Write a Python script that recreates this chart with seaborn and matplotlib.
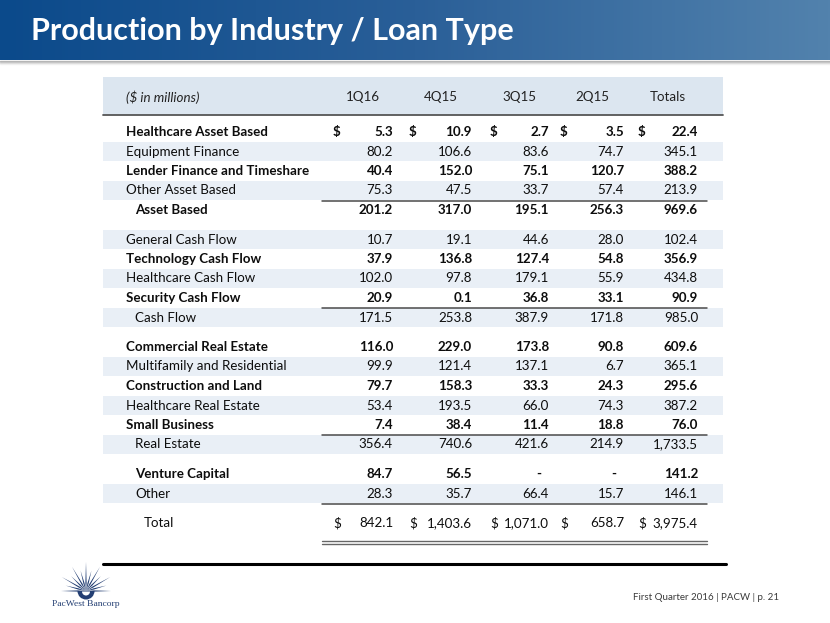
import numpy as np
import pandas as pd
import matplotlib
matplotlib.use("Agg")
import matplotlib.pyplot as plt
import seaborn as sns
from matplotlib.colors import LinearSegmentedColormap
from matplotlib.patches import Rectangle, Polygon, Wedge

# ---------------- data ----------------
title = "Production by Industry / Loan Type"
unit_label = "($ in millions)"
periods = ["1Q16", "4Q15", "3Q15", "2Q15", "Totals"]
categories = [
    "Healthcare Asset Based", "Equipment Finance", "Lender Finance and Timeshare",
    "Other Asset Based", "Asset Based",
    "General Cash Flow", "Technology Cash Flow", "Healthcare Cash Flow",
    "Security Cash Flow", "Cash Flow",
    "Commercial Real Estate", "Multifamily and Residential", "Construction and Land",
    "Healthcare Real Estate", "Small Business", "Real Estate",
    "Venture Capital", "Other",
    "Total",
]
q1_16 = [5.3, 80.2, 40.4, 75.3, 201.2, 10.7, 37.9, 102.0, 20.9, 171.5,
         116.0, 99.9, 79.7, 53.4, 7.4, 356.4, 84.7, 28.3, 842.1]
q4_15 = [10.9, 106.6, 152.0, 47.5, 317.0, 19.1, 136.8, 97.8, 0.1, 253.8,
         229.0, 121.4, 158.3, 193.5, 38.4, 740.6, 56.5, 35.7, 1403.6]
q3_15 = [2.7, 83.6, 75.1, 33.7, 195.1, 44.6, 127.4, 179.1, 36.8, 387.9,
         173.8, 137.1, 33.3, 66.0, 11.4, 421.6, None, 66.4, 1071.0]
q2_15 = [3.5, 74.7, 120.7, 57.4, 256.3, 28.0, 54.8, 55.9, 33.1, 171.8,
         90.8, 6.7, 24.3, 74.3, 18.8, 214.9, None, 15.7, 658.7]
totals = [22.4, 345.1, 388.2, 213.9, 969.6, 102.4, 356.9, 434.8, 90.9, 985.0,
          609.6, 365.1, 295.6, 387.2, 76.0, 1733.5, 141.2, 146.1, 3975.4]
footer = "First Quarter 2016 | PACW | p. 21"
logo_text = "PacWest Bancorp"

df = pd.DataFrame({"category": categories, "1Q16": q1_16, "4Q15": q4_15,
                   "3Q15": q3_15, "2Q15": q2_15, "Totals": totals})

# ---------------- style / layout ----------------
sns.set_theme(style="white")
plt.rcParams["font.family"] = ["Lato", "DejaVu Sans"]

bold_rows = {"Healthcare Asset Based", "Lender Finance and Timeshare", "Asset Based",
             "Technology Cash Flow", "Security Cash Flow", "Commercial Real Estate",
             "Construction and Land", "Small Business", "Venture Capital"}
indent1 = {"Asset Based", "Cash Flow", "Real Estate", "Venture Capital", "Other"}
indent2 = {"Total"}
shaded_rows = {"Equipment Finance", "Other Asset Based", "General Cash Flow",
               "Healthcare Cash Flow", "Cash Flow", "Multifamily and Residential",
               "Healthcare Real Estate", "Real Estate", "Other"}
dollar_rows = {"Healthcare Asset Based", "Total"}
underline_before = {"Asset Based", "Cash Flow", "Real Estate", "Total"}
group_starts = {"General Cash Flow", "Commercial Real Estate", "Venture Capital", "Total"}

W, H = 830, 623
fig = plt.figure(figsize=(W / 100, H / 100), dpi=100)
ax = fig.add_axes([0, 0, 1, 1])
ax.set_xlim(0, W)
ax.set_ylim(H, 0)
ax.axis("off")

# title bar gradient
cmap = LinearSegmentedColormap.from_list("bar", ["#0b4a8b", "#2a5f98", "#5282ad"])
grad = np.linspace(0, 1, 256).reshape(1, -1)
ax.imshow(grad, cmap=cmap, extent=[0, W, 60, 0], aspect="auto", zorder=1)
for k, a in enumerate([0.35, 0.22, 0.12, 0.05]):
    ax.plot([0, W], [60.5 + k, 60.5 + k], color="#404040", alpha=a, lw=1, zorder=1)
ax.text(31, 31, title, color="white", fontsize=22, fontweight="bold",
        va="center", ha="left", zorder=3)

# column geometry
col_right = [393, 472, 549, 624, 698]
dollar_x = [333, 409, 490, 560, 638]
tbl_left, tbl_right = 103, 723
line_left, line_right = 322, 707
fs = 9.6
txt = "#0d0d0d"

# header band
ax.add_patch(Rectangle((tbl_left, 77), tbl_right - tbl_left, 37.5,
                       color="#dce6f0", lw=0, zorder=1))
ax.plot([tbl_left, tbl_right], [114.5, 114.5], color="#555555", lw=1.3, zorder=2)
ax.text(126, 97, unit_label, fontsize=fs, style="italic", color="#222222",
        va="center", ha="left")
for p, d, r in zip(periods, dollar_x, col_right):
    ax.text((d + r) / 2, 97, p, fontsize=fs, color="#222222", va="center", ha="center")

# row positions
row_h, gap = 19.5, 10
ys = []
y = 132
for i, c in enumerate(df["category"]):
    if i > 0:
        y += row_h + (gap if c in group_starts else 0)
    ys.append(y)

def fmt(v):
    if v is None or (isinstance(v, float) and np.isnan(v)):
        return None
    return f"{v:,.1f}"

for (i, row), yy in zip(df.iterrows(), ys):
    c = row["category"]
    if c in shaded_rows:
        ax.add_patch(Rectangle((tbl_left, yy - row_h / 2), tbl_right - tbl_left, row_h,
                               color="#e9eff6", lw=0, zorder=1))
    if c in underline_before:
        ly = ys[i - 1] + 10 if c != "Total" else ys[i - 1] + 10.5
        ax.plot([line_left, line_right], [ly, ly], color="#4a4a4a", lw=1.1, zorder=2)
    weight = "bold" if c in bold_rows else "normal"
    x0 = 126 + (9 if c in indent1 else 0) + (18 if c in indent2 else 0)
    ax.text(x0, yy, c, fontsize=fs, fontweight=weight, color=txt,
            va="center", ha="left", zorder=3)
    for p, d, r in zip(periods, dollar_x, col_right):
        s = fmt(row[p])
        if s is None:
            ax.text(r - 8, yy, "-", fontsize=fs, fontweight=weight, color=txt,
                    va="center", ha="right", zorder=3)
        else:
            ax.text(r, yy, s, fontsize=fs, fontweight=weight, color=txt,
                    va="center", ha="right", zorder=3)
        if c in dollar_rows:
            ax.text(d, yy, "$", fontsize=fs, fontweight=weight, color=txt,
                    va="center", ha="left", zorder=3)

# double rule under total
ax.plot([line_left, line_right], [541.2, 541.2], color="#666666", lw=1.0, zorder=2)
ax.plot([line_left, line_right], [543.6, 543.6], color="#666666", lw=1.0, zorder=2)

# black rule
ax.plot([103, 726], [563.5, 563.5], color="black", lw=2.2, zorder=2)

# logo starburst
navy = "#243f73"
cx, cy = 86, 591
angles = np.linspace(180, 0, 13)
for k, a in enumerate(angles):
    th = np.deg2rad(a)
    R = 28 if k % 2 == 0 else 21
    if k in (0, 12):
        R = 25
    if k == 6:
        R = 29
    half = np.deg2rad(4.5)
    r0 = 8
    tip = (cx + R * np.cos(th), cy - R * np.sin(th))
    b1 = (cx + r0 * np.cos(th - half), cy - r0 * np.sin(th - half))
    b2 = (cx + r0 * np.cos(th + half), cy - r0 * np.sin(th + half))
    ax.add_patch(Polygon([tip, b1, (cx, cy), b2], closed=True, color=navy, lw=0, zorder=2))
ax.add_patch(Wedge((cx, cy), 8.5, 0, 180, color=navy, lw=0, zorder=2))
ax.add_patch(Wedge((cx, cy + 0.5), 4, 0, 180, color="white", lw=0, zorder=3))
ax.text(cx, 603.5, logo_text, fontsize=6.8, family=["Liberation Serif", "DejaVu Serif"],
        color=navy, ha="center", va="center")

# footer
ax.text(779, 597, footer, fontsize=7, color="#3a3a3a", ha="right", va="center")

fig.savefig("out.png", dpi=100)
